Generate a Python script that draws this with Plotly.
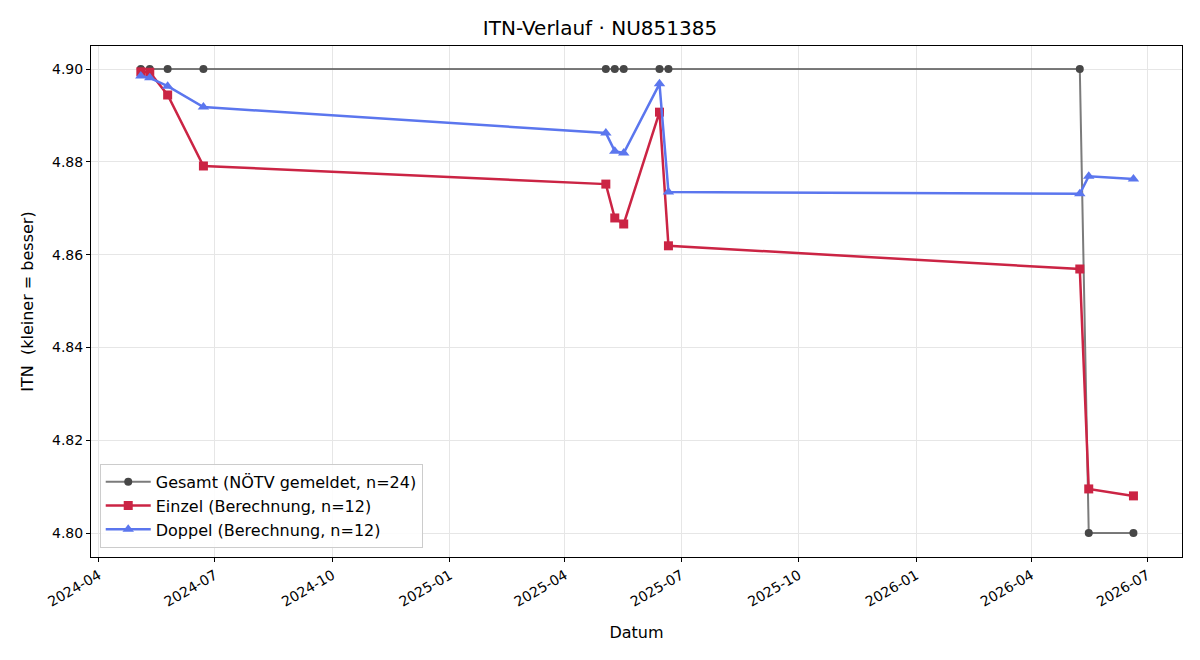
import plotly.graph_objects as go

dates = ["2024-05-04", "2024-05-11", "2024-05-25", "2024-06-22",
         "2025-05-03", "2025-05-10", "2025-05-17", "2025-06-14", "2025-06-21",
         "2026-05-09", "2026-05-16", "2026-06-20"]
gesamt = [4.90, 4.90, 4.90, 4.90, 4.90, 4.90, 4.90, 4.90, 4.90, 4.90, 4.80, 4.80]
einzel = [4.8994, 4.8993, 4.8944, 4.8791, 4.8752, 4.8679, 4.8666, 4.8907, 4.8619,
          4.8569, 4.8095, 4.8080]
doppel = [4.8985, 4.8981, 4.8963, 4.8918, 4.8862, 4.8823, 4.8819, 4.8968, 4.8735,
          4.8731, 4.8769, 4.8763]

x_ticks = ["2024-04-01", "2024-07-01", "2024-10-01", "2025-01-01", "2025-04-01",
           "2025-07-01", "2025-10-01", "2026-01-01", "2026-04-01", "2026-07-01"]
x_tick_text = ["2024-04", "2024-07", "2024-10", "2025-01", "2025-04",
               "2025-07", "2025-10", "2026-01", "2026-04", "2026-07"]
y_ticks = [4.80, 4.82, 4.84, 4.86, 4.88, 4.90]

fig = go.Figure()
fig.add_trace(go.Scatter(
    x=dates, y=gesamt, mode="lines+markers", name="Gesamt (NÖTV gemeldet, n=24)",
    line=dict(color="rgba(90,90,90,0.8)", width=2),
    marker=dict(symbol="circle", size=8, color="#474747"),
))
fig.add_trace(go.Scatter(
    x=dates, y=einzel, mode="lines+markers", name="Einzel (Berechnung, n=12)",
    line=dict(color="#CB2444", width=2.5),
    marker=dict(symbol="square", size=9, color="#CB2444"),
))
fig.add_trace(go.Scatter(
    x=dates, y=doppel, mode="lines+markers", name="Doppel (Berechnung, n=12)",
    line=dict(color="#5B76EE", width=2.5),
    marker=dict(symbol="triangle-up", size=10, color="#5B76EE"),
))

fig.update_layout(
    width=1200, height=660,
    margin=dict(l=91, r=18, t=46, b=103),
    paper_bgcolor="white", plot_bgcolor="white",
    font=dict(family="DejaVu Sans", size=14, color="black"),
    title=dict(text="ITN-Verlauf · NU851385", x=0.5, xanchor="center",
               y=0.958, yanchor="middle", font=dict(size=20)),
    legend=dict(x=0.008, y=0.018, xanchor="left", yanchor="bottom",
                bgcolor="rgba(255,255,255,0.85)", bordercolor="#cccccc", borderwidth=1,
                font=dict(size=16), tracegroupgap=2, itemwidth=45),
    showlegend=True,
)
fig.update_xaxes(
    range=["2024-03-26", "2026-07-28"],
    tickvals=x_ticks, ticktext=x_tick_text, tickangle=-30,
    showgrid=True, gridcolor="#e6e6e6", gridwidth=1,
    showline=True, linecolor="black", linewidth=1, mirror=True,
    ticks="outside", ticklen=4, tickcolor="black",
    title=dict(text="Datum", font=dict(size=16), standoff=18),
    tickfont=dict(size=14), zeroline=False,
)
fig.update_yaxes(
    range=[4.79483, 4.90496],
    tickvals=y_ticks, tickformat=".2f",
    showgrid=True, gridcolor="#e6e6e6", gridwidth=1,
    showline=True, linecolor="black", linewidth=1, mirror=True,
    ticks="outside", ticklen=4, tickcolor="black",
    title=dict(text="ITN  (kleiner = besser)", font=dict(size=16), standoff=14),
    tickfont=dict(size=14), zeroline=False,
)

fig.write_html("out.html")
